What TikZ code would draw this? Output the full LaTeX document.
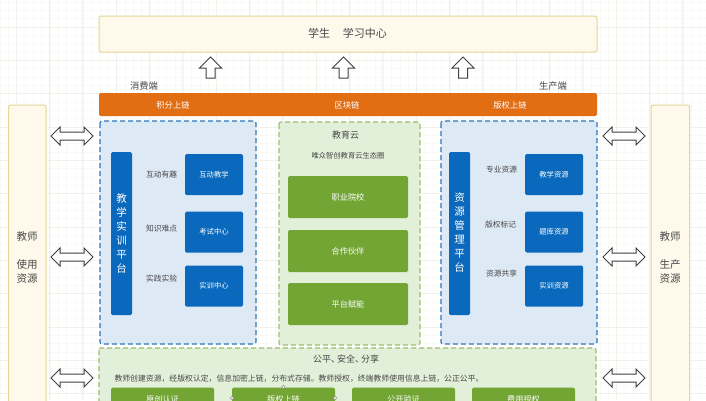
\documentclass[tikz,border=0pt]{standalone}
\usepackage{fontspec}
\setmainfont{Noto Sans CJK SC}
\definecolor{cream}{HTML}{FFF9EC}
\definecolor{creamline}{HTML}{E3D698}
\definecolor{orangebar}{HTML}{E26E14}
\definecolor{bluepanel}{HTML}{DEE9F6}
\definecolor{blueline}{HTML}{2E75B6}
\definecolor{greenpanel}{HTML}{E2EFD9}
\definecolor{greenline}{HTML}{9CBD6E}
\definecolor{blueblock}{HTML}{0A69BC}
\definecolor{greenblock}{HTML}{73A534}
\definecolor{gridminor}{HTML}{F8F8F4}
\definecolor{gridmajor}{HTML}{F1F1EC}
\definecolor{inktext}{HTML}{484848}
\tikzset{
  x=1pt,y=-1pt,
  creambox/.style={draw=creamline,line width=1pt,fill=cream,rounded corners=2pt},
  barbox/.style={fill=orangebar,rounded corners=2pt},
  bluepanelbox/.style={draw=blueline,line width=1.1pt,dash pattern=on 5pt off 3pt,fill=bluepanel,rounded corners=2pt},
  greenpanelbox/.style={draw=greenline,line width=1.1pt,dash pattern=on 5pt off 3pt,fill=greenpanel,rounded corners=2pt},
  vbar/.style={fill=blueblock,rounded corners=1.5pt},
  vtext/.style={text=white,font=\fontsize{10.5}{14}\selectfont,align=center,inner sep=0pt},
  sidetext/.style={text=inktext,font=\fontsize{10.5}{14}\selectfont,align=center,inner sep=0pt},
  smalllabel/.style={text=inktext,font=\fontsize{7.75}{9}\selectfont,inner sep=0pt},
  endlabel/.style={text=inktext,font=\fontsize{9.3}{11}\selectfont,inner sep=0pt},
  midlabel/.style={text=inktext,font=\fontsize{9}{11}\selectfont,inner sep=0pt},
  barlabel/.style={text=white,font=\fontsize{8.3}{10}\selectfont,inner sep=0pt},
  bluetext/.style={text=white,font=\fontsize{7.3}{9}\selectfont,inner sep=0pt},
  greentext/.style={text=white,font=\fontsize{8.2}{10}\selectfont,inner sep=0pt},
  arrowline/.style={draw=black!75,line width=1pt,fill=white,line join=miter},
  handle/.style={circle,draw=black!45,fill=white,line width=0.4pt,minimum size=3.5pt,inner sep=0pt}
}
\newcommand{\uparrowshape}[1]{\draw[arrowline] (#1-11,68) -- (#1,57) -- (#1+11,68) -- (#1+4.5,68) -- (#1+4.5,78) -- (#1-4.5,78) -- (#1-4.5,68) -- cycle;}
\newcommand{\twowayshape}[2]{\draw[arrowline] (#1,#2) -- (#1+9,#2-9) -- (#1+9,#2-4) -- (#1+33,#2-4) -- (#1+33,#2-9) -- (#1+42,#2) -- (#1+33,#2+9) -- (#1+33,#2+4) -- (#1+9,#2+4) -- (#1+9,#2+9) -- cycle;}
\begin{document}
\begin{tikzpicture}
\useasboundingbox (0,0) rectangle (706,400);
\fill[white] (0,0) rectangle (706,400);
\begin{scope}
\clip (0,0) rectangle (706,400);
\foreach \g in {0,...,85} \draw[gridminor,line width=0.4pt] ({\g*8.33},0) -- ({\g*8.33},400);
\foreach \g in {0,...,48} \draw[gridminor,line width=0.4pt] (0,{2+\g*8.33}) -- (706,{2+\g*8.33});
\foreach \g in {0,...,21} \draw[gridmajor,line width=0.4pt] ({16+\g*33.33},0) -- ({16+\g*33.33},400);
\foreach \g in {0,...,12} \draw[gridmajor,line width=0.4pt] (0,{27+\g*33.33}) -- (706,{27+\g*33.33});

\draw[creambox] (99,16) rectangle (597,52);
\node[text=inktext,font=\fontsize{11}{13}\selectfont,inner sep=0pt] (top) at (347.5,33.5) {学生\hspace{13pt}学习中心};

\uparrowshape{210.5}
\uparrowshape{343.5}
\uparrowshape{463}

\node[endlabel] (cons) at (144,86) {消费端};
\node[endlabel] (prod) at (553,86) {生产端};

\fill[barbox] (99,93) rectangle (597,116);
\node[barlabel] (b1) at (173,105) {积分上链};
\node[barlabel] (b2) at (347,105) {区块链};
\node[barlabel] (b3) at (510,105) {版权上链};

% side columns
\draw[creambox] (8.5,105) rectangle (46,420);
\draw[creambox] (651,105) rectangle (689.5,420);
\node[sidetext] (st1) at (27,257.5) {教师\\[14pt]使用\\资源};
\node[sidetext] (st2) at (670,257.5) {教师\\[14pt]生产\\资源};

\twowayshape{51}{136}
\twowayshape{51}{257}
\twowayshape{51}{378}
\twowayshape{603}{136}
\twowayshape{603}{257}
\twowayshape{603}{378}

% panels
\draw[bluepanelbox] (100,121) rectangle (256,344);
\draw[greenpanelbox] (279,122) rectangle (420,345);
\draw[bluepanelbox] (441,121) rectangle (597,344);

% left panel
\fill[vbar] (111,152) rectangle (132,315);
\node[vtext] (lv) at (121.5,233) {教\\学\\实\\训\\平\\台};
\foreach \n/\yy/\tx in {la/174.5/互动教学,lb/232/考试中心,lc/286/实训中心}{
  \fill[blueblock,rounded corners=1.5pt] (185,\yy-20.5) rectangle (243,\yy+20.5);
  \node[bluetext] (\n) at (214,\yy) {\tx};
}
\node[smalllabel] (ll1) at (161.7,175) {互动有趣};
\node[smalllabel] (ll2) at (161.7,229) {知识难点};
\node[smalllabel] (ll3) at (161.7,279) {实践实验};

% right panel
\fill[vbar] (449,152) rectangle (470,315);
\node[vtext] (rv) at (459.5,233) {资\\源\\管\\理\\平\\台};
\foreach \n/\yy/\tx in {ra/174.5/教学资源,rb/232/题库资源,rc/286/实训资源}{
  \fill[blueblock,rounded corners=1.5pt] (525,\yy-20.5) rectangle (583,\yy+20.5);
  \node[bluetext] (\n) at (554,\yy) {\tx};
}
\node[smalllabel] (rl1) at (501.7,170) {专业资源};
\node[smalllabel] (rl2) at (500.7,224.7) {版权标记};
\node[smalllabel] (rl3) at (501.7,274) {资源共享};

% cloud panel
\node[midlabel] (cloud) at (345.5,135) {教育云};
\node[smalllabel,font=\fontsize{7.3}{9}\selectfont] (cloudsub) at (348,156) {唯众智创教育云生态圈};
\foreach \n/\yy/\tx in {ga/197/职业院校,gb/251/合作伙伴,gc/304/平台赋能}{
  \fill[greenblock,rounded corners=1.5pt] (288,\yy-21) rectangle (408,\yy+21);
  \node[greentext] (\n) at (348,\yy) {\tx};
}

% bottom panel
\draw[greenpanelbox] (99,348) rectangle (596,420);
\node[midlabel] (fair) at (346,359) {公平、\hspace{-3pt}安全、\hspace{-3pt}分享};
\node[smalllabel,font=\fontsize{7.85}{9}\selectfont] (desc) at (299,379) {教师创建资源，经版权认定，信息加密上链，分布式存储。教师授权，终端教师使用信息上链，公正公平。};
\foreach \n/\xa/\tx in {ba/111/原创认证,bb/232/版权上链,bc/352/公开验证,bd/472/费用授权}{
  \fill[greenblock,rounded corners=1.5pt] (\xa,387.5) rectangle (\xa+103,430);
  \node[greentext] (\n) at (\xa+51.5,399.5) {\tx};
}
\node[handle] (h1) at (232,398) {};
\node[handle] (h2) at (283.5,387) {};
\node[handle] (h3) at (335,398) {};
\end{scope}
\end{tikzpicture}
\end{document}
